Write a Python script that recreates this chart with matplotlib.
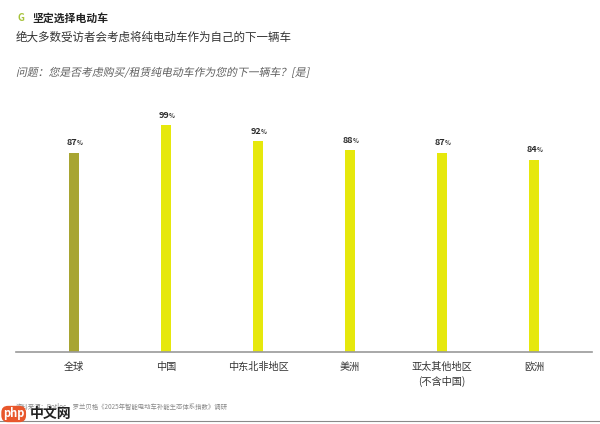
import matplotlib
matplotlib.use("Agg")
import matplotlib.pyplot as plt
from matplotlib.textpath import TextPath
from matplotlib.font_manager import FontProperties
from matplotlib.patches import PathPatch
from matplotlib.transforms import Affine2D

plt.rcParams['font.family'] = ['Noto Sans CJK SC', 'DejaVu Sans']

# data
regions = ['全球', '中国', '中东北非地区', '美洲', '亚太其他地区\n(不含中国)', '欧洲']
share = [87, 99, 92, 88, 87, 84]
bar_colors = ['#a8a532', '#e6e80c', '#e6e80c', '#e6e80c', '#e6e80c', '#e6e80c']

title = '坚定选择电动车'
subtitle = '绝大多数受访者会考虑将纯电动车作为自己的下一辆车'
question = '问题：您是否考虑购买/租赁纯电动车作为您的下一辆车？[是]'
source = '资料来源：Rotloc，罗兰贝格《2025年智能电动车补能生态体系指数》调研'

W, H = 600, 424
fig = plt.figure(figsize=(W / 100, H / 100), dpi=100)
fig.patch.set_facecolor('white')

# axes placed in pixel terms: baseline at y=352, 100% at y=123
ax = fig.add_axes([16 / W, (H - 352) / H, (592 - 16) / W, (352 - 123) / H])
x = list(range(len(regions)))
ax.bar(x, share, width=0.11, color=bar_colors, zorder=2)
ax.set_xlim(-0.63, len(regions) - 1 + 0.63)
ax.set_ylim(0, 100)

for xi, v in zip(x, share):
    ax.annotate(f'{v}', (xi, v), xytext=(-1.5, 4), textcoords='offset points',
                ha='center', va='bottom', fontsize=6.5, fontweight='bold', color='#2b2b2b')
    ax.annotate('%', (xi, v), xytext=(4.3, 4.6), textcoords='offset points',
                ha='center', va='bottom', fontsize=4.3, fontweight='bold', color='#2b2b2b')

for s in ['top', 'right', 'left']:
    ax.spines[s].set_visible(False)
ax.spines['bottom'].set_color('#9a9a9a')
ax.spines['bottom'].set_linewidth(1.2)
ax.set_yticks([])
ax.set_xticks(x)
ax.set_xticklabels(regions, fontsize=7.3, color='#333333', linespacing=1.5)
ax.tick_params(axis='x', length=0, pad=7)

# header texts
fig.text(17 / W, 1 - 18 / H, 'G', fontsize=7, fontweight='bold', color='#a6c23a', va='center')
fig.text(32 / W, 1 - 18 / H, title, fontsize=7.8, fontweight='bold', color='#222222', va='center')
fig.text(16 / W, 1 - 37 / H, subtitle, fontsize=8.3, color='#333333', va='center')

# question line drawn slanted (CJK font has no italic face)
qpath = TextPath((0, 0), question, size=7.8 * 100 / 72,
                 prop=FontProperties(family=['Noto Sans CJK SC', 'DejaVu Sans']))
qtrans = Affine2D().skew_deg(12, 0).translate(16, H - 76)
fig.add_artist(PathPatch(qtrans.transform_path(qpath), fc='#5e5e5e', ec='none',
                         transform=None))

# footer
fig.text(16 / W, 1 - 407 / H, source, fontsize=4.6, color='#888888', va='center')
fig.add_artist(plt.Line2D([0, 1], [1 - 421 / H, 1 - 421 / H], color='#8a8a8a', lw=0.8))

# watermark
fig.text(3 / W, 1 - 414 / H, 'php', fontsize=8, color='white', va='center', fontweight='bold',
         bbox=dict(boxstyle='round,pad=0.15,rounding_size=0.6', fc='#e8572c', ec='none'))
fig.text(30 / W, 1 - 414 / H, '中文网', fontsize=10, color='#222222', va='center', fontweight='bold')

fig.savefig('out.png', dpi=100, facecolor='white')
